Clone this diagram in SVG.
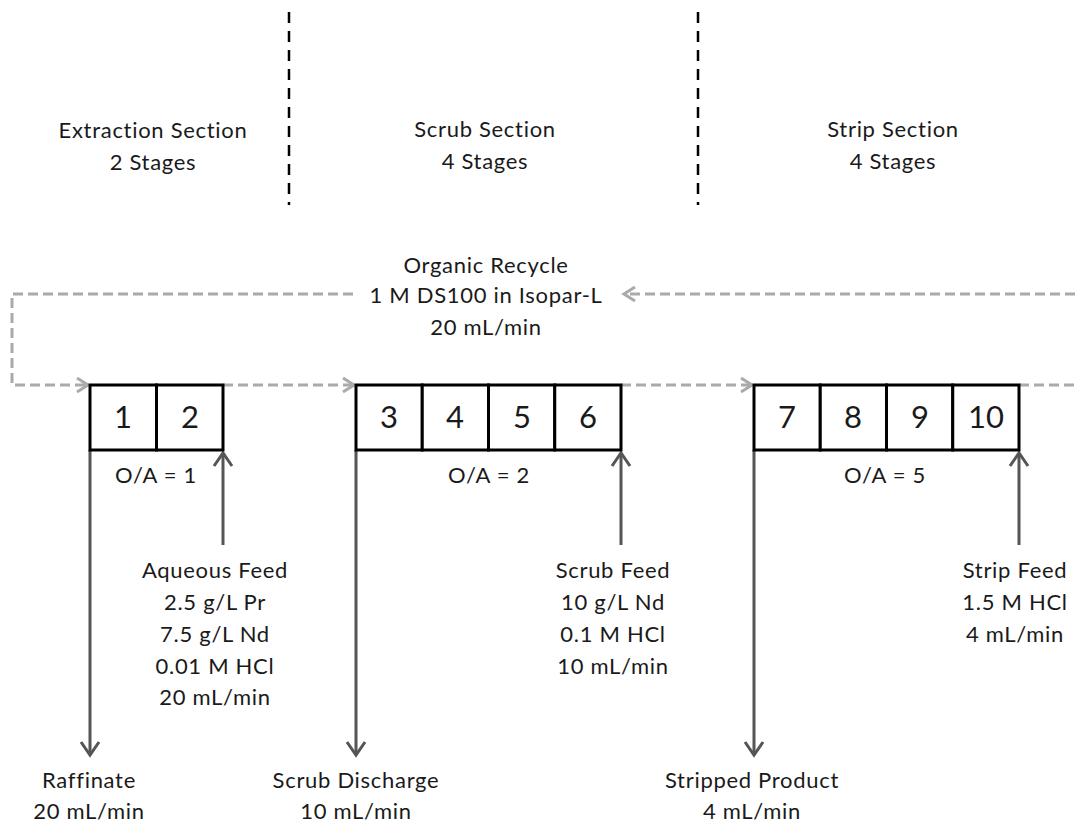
<svg xmlns="http://www.w3.org/2000/svg" width="1075" height="822" viewBox="0 0 1075 822">
<style>
text{font-family:"Lato","Liberation Sans",sans-serif;fill:#1a1a1a;text-anchor:middle}
.lbl{font-size:22px;letter-spacing:0.7px}
.num{font-size:31px}
.cell{fill:#fff;stroke:#000;stroke-width:3}
.sep{stroke:#000;stroke-width:2.5;stroke-dasharray:11 8;fill:none}
.rec{stroke:#aaa;stroke-width:3;stroke-dasharray:10 5;fill:none}
.flow{stroke:#555;stroke-width:3;fill:none}
</style>
<defs>
<marker id="ag" markerUnits="userSpaceOnUse" markerWidth="16" markerHeight="20" refX="13" refY="10" orient="auto" viewBox="0 0 16 20">
<path d="M2,3 L13,10 L2,17" fill="none" stroke="#aaa" stroke-width="3"/>
</marker>
<marker id="ad" markerUnits="userSpaceOnUse" markerWidth="18" markerHeight="22" refX="15" refY="11" orient="auto" viewBox="0 0 18 22">
<path d="M2,2 L15,11 L2,20" fill="none" stroke="#555" stroke-width="3"/>
</marker>
</defs>
<g id="dividers">
<line class="sep" x1="289" y1="12" x2="289" y2="205"/>
<line class="sep" x1="698" y1="12" x2="698" y2="205"/>
</g>
<g id="section-labels">
<text class="lbl" x="153" y="138">Extraction Section</text>
<text class="lbl" x="153" y="170">2 Stages</text>
<text class="lbl" x="485" y="137">Scrub Section</text>
<text class="lbl" x="485" y="169">4 Stages</text>
<text class="lbl" x="893" y="137">Strip Section</text>
<text class="lbl" x="893" y="169">4 Stages</text>
</g>
<g id="connectors">
<path class="rec" d="M353,294 H12 V385 H88" marker-end="url(#ag)"/>
<path class="rec" d="M223,385 H354" marker-end="url(#ag)"/>
<path class="rec" d="M621,385 H752" marker-end="url(#ag)"/>
<path class="rec" d="M1019,385 H1075"/>
<path class="rec" d="M1075,294 H624" marker-end="url(#ag)"/>
<line class="flow" x1="90" y1="450" x2="90" y2="755" marker-end="url(#ad)"/>
<line class="flow" x1="356" y1="450" x2="356" y2="755" marker-end="url(#ad)"/>
<line class="flow" x1="754" y1="450" x2="754" y2="755" marker-end="url(#ad)"/>
<line class="flow" x1="223" y1="545" x2="223" y2="453" marker-end="url(#ad)"/>
<line class="flow" x1="621" y1="545" x2="621" y2="453" marker-end="url(#ad)"/>
<line class="flow" x1="1019" y1="545" x2="1019" y2="453" marker-end="url(#ad)"/>
</g>
<g id="extraction">
<rect class="cell" x="90" y="385" width="66.5" height="65"/>
<rect class="cell" x="156.5" y="385" width="66.5" height="65"/>
<text class="num" x="123" y="428">1</text>
<text class="num" x="190" y="428">2</text>
<text class="lbl" x="156" y="483">O/A = 1</text>
</g>
<g id="scrub">
<rect class="cell" x="356" y="385" width="66.25" height="65"/>
<rect class="cell" x="422.25" y="385" width="66.25" height="65"/>
<rect class="cell" x="488.5" y="385" width="66.25" height="65"/>
<rect class="cell" x="554.75" y="385" width="66.25" height="65"/>
<text class="num" x="389" y="428">3</text>
<text class="num" x="455" y="428">4</text>
<text class="num" x="522" y="428">5</text>
<text class="num" x="588" y="428">6</text>
<text class="lbl" x="489" y="483">O/A = 2</text>
</g>
<g id="strip">
<rect class="cell" x="754" y="385" width="66.25" height="65"/>
<rect class="cell" x="820.25" y="385" width="66.25" height="65"/>
<rect class="cell" x="886.5" y="385" width="66.25" height="65"/>
<rect class="cell" x="952.75" y="385" width="66.25" height="65"/>
<text class="num" x="787" y="428">7</text>
<text class="num" x="853" y="428">8</text>
<text class="num" x="920" y="428">9</text>
<text class="num" x="986" y="428">10</text>
<text class="lbl" x="885" y="483">O/A = 5</text>
</g>
<g id="organic-recycle">
<text class="lbl" x="486" y="273">Organic Recycle</text>
<text class="lbl" x="486" y="303">1 M DS100 in Isopar-L</text>
<text class="lbl" x="486" y="335">20 mL/min</text>
</g>
<g id="aqueous-feed">
<text class="lbl" x="215" y="578">Aqueous Feed</text>
<text class="lbl" x="215" y="610">2.5 g/L Pr</text>
<text class="lbl" x="215" y="642">7.5 g/L Nd</text>
<text class="lbl" x="215" y="674">0.01 M HCl</text>
<text class="lbl" x="215" y="705">20 mL/min</text>
</g>
<g id="scrub-feed">
<text class="lbl" x="613" y="578">Scrub Feed</text>
<text class="lbl" x="613" y="610">10 g/L Nd</text>
<text class="lbl" x="613" y="642">0.1 M HCl</text>
<text class="lbl" x="613" y="674">10 mL/min</text>
</g>
<g id="strip-feed">
<text class="lbl" x="1015" y="578">Strip Feed</text>
<text class="lbl" x="1015" y="610">1.5 M HCl</text>
<text class="lbl" x="1015" y="642">4 mL/min</text>
</g>
<g id="raffinate">
<text class="lbl" x="89" y="788">Raffinate</text>
<text class="lbl" x="89" y="819">20 mL/min</text>
</g>
<g id="scrub-discharge">
<text class="lbl" x="356" y="788">Scrub Discharge</text>
<text class="lbl" x="356" y="819">10 mL/min</text>
</g>
<g id="stripped-product">
<text class="lbl" x="752" y="788">Stripped Product</text>
<text class="lbl" x="752" y="819">4 mL/min</text>
</g>
</svg>
